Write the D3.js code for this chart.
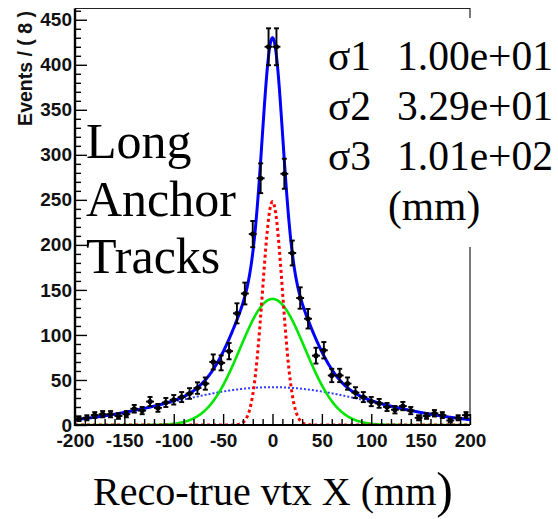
<!DOCTYPE html>
<html>
<head>
<meta charset="utf-8">
<script src="https://cdn.jsdelivr.net/npm/d3@7"></script>
<style>
  html, body { margin: 0; padding: 0; background: #fff; }
  svg { display: block; }
</style>
</head>
<body>
<svg id="chart" width="558" height="519"></svg>
<script>
// Histogram bins (width 8 mm) of reco - true vertex X
const binCenters = [-196, -188, -180, -172, -164, -156, -148, -140, -132, -124,
                    -116, -108, -100, -92, -84, -76, -68, -60, -52, -44,
                    -36, -28, -20, -12, -4, 4, 12, 20, 28, 36,
                    44, 52, 60, 68, 76, 84, 92, 100, 108, 116,
                    124, 132, 140, 148, 156, 164, 172, 180, 188, 196];
const counts = [7, 8, 11, 12, 12, 10, 12, 18, 16, 26,
                19, 25, 28, 31, 35, 41, 46, 70, 69, 82,
                124, 146, 212, 274, 420, 420, 279, 191, 141, 118,
                77, 83, 55, 55, 46, 36, 31, 26, 24, 20,
                17, 21, 16, 8, 10, 13, 11, 5, 8, 11];
const binWidth = 8;

// Triple-Gaussian fit components (narrow, medium, wide)
const fitSigmas = [10.0, 32.9, 101];
const fitAmplitudes = [248, 140, 42];
const fitMeans = [0, 0, 0];

const xTicks = [-200, -150, -100, -50, 0, 50, 100, 150, 200];
const yTicks = [0, 50, 100, 150, 200, 250, 300, 350, 400, 450];

const svg = d3.select("#chart");
const padL = 75, padR = 470, padT = 8.5, padB = 425;

const x = d3.scaleLinear().domain([-200, 200]).range([padL, padR]);
const y = d3.scaleLinear().domain([0, 462.5]).range([padB, padT]);

const sansBold = "'Liberation Sans', Arial, Helvetica, sans-serif";
const serif = "'Liberation Serif', 'Times New Roman', serif";

svg.append("defs").append("clipPath").attr("id", "plotClip")
  .append("rect").attr("x", padL).attr("y", padT)
  .attr("width", padR - padL).attr("height", padB - padT);

// Frame (top and right edges)
svg.append("path")
  .attr("d", `M${padL},${padT}H${padR}V${padB}`)
  .attr("fill", "none").attr("stroke", "#222").attr("stroke-width", 1.2);

// Fit curves
const gauss = (v, i) => fitAmplitudes[i] * Math.exp(-0.5 * Math.pow((v - fitMeans[i]) / fitSigmas[i], 2));
const samples = d3.range(-200, 200.25, 0.5);
const line = d3.line().x(d => x(d[0])).y(d => y(d[1])).curve(d3.curveLinear);
const plot = svg.append("g").attr("clip-path", "url(#plotClip)");

const compStyles = [
  { color: "#ff0000", width: 3, dash: "3,3" },
  { color: "#00e600", width: 2.6, dash: null },
  { color: "#2f3cff", width: 2, dash: "2,2" }
];
[2, 1, 0].forEach(i => {
  const s = compStyles[i];
  plot.append("path")
    .datum(samples.map(v => [v, gauss(v, i)]))
    .attr("d", line)
    .attr("fill", "none")
    .attr("stroke", s.color)
    .attr("stroke-width", s.width)
    .attr("stroke-dasharray", s.dash);
});

// Data points with Poisson error bars
const pts = svg.append("g").attr("stroke", "#000").attr("stroke-width", 1.9);
binCenters.forEach((c, i) => {
  const n = counts[i];
  const err = Math.sqrt(n);
  const cx = x(c), cy = y(n);
  const yLo = y(Math.max(0, n - err)), yHi = y(n + err);
  pts.append("line").attr("x1", x(c - binWidth / 2)).attr("x2", x(c + binWidth / 2))
    .attr("y1", cy).attr("y2", cy);
  pts.append("line").attr("x1", cx).attr("x2", cx).attr("y1", yLo).attr("y2", yHi);
  pts.append("line").attr("x1", cx - 2.5).attr("x2", cx + 2.5).attr("y1", yLo).attr("y2", yLo);
  pts.append("line").attr("x1", cx - 2.5).attr("x2", cx + 2.5).attr("y1", yHi).attr("y2", yHi);
  pts.append("circle").attr("cx", cx).attr("cy", cy).attr("r", 2.6)
    .attr("fill", "#000").attr("stroke", "none");
});

// Total fit
plot.append("path")
  .datum(samples.map(v => [v, gauss(v, 0) + gauss(v, 1) + gauss(v, 2)]))
  .attr("d", line)
  .attr("fill", "none")
  .attr("stroke", "#0000ff")
  .attr("stroke-width", 3);

// Axes with inward ticks
const yMinor = d3.range(0, 461, 10).filter(v => v % 50 !== 0);
const xMinor = d3.range(-200, 201, 10).filter(v => v % 50 !== 0);

svg.append("g").attr("transform", `translate(${padL},0)`)
  .call(d3.axisLeft(y).tickValues(yTicks).tickSize(-12).tickPadding(3).tickFormat(d => String(d)));
svg.append("g").attr("transform", `translate(${padL},0)`)
  .call(d3.axisLeft(y).tickValues(yMinor).tickSize(-6).tickFormat(""));
svg.append("g").attr("transform", `translate(0,${padB})`)
  .call(d3.axisBottom(x).tickValues(xTicks).tickSize(-11).tickPadding(9).tickFormat(d => String(d)));
svg.append("g").attr("transform", `translate(0,${padB})`)
  .call(d3.axisBottom(x).tickValues(xMinor).tickSize(-6).tickFormat(""));

svg.selectAll(".domain").remove();
svg.selectAll(".tick line").attr("stroke", "#000").attr("stroke-width", 1.4);
svg.selectAll(".tick text")
  .attr("font-family", sansBold).attr("font-weight", "bold")
  .attr("font-size", 19).attr("fill", "#111");

// Axis lines
svg.append("line").attr("x1", padL).attr("x2", padL).attr("y1", padT).attr("y2", padB + 1)
  .attr("stroke", "#000").attr("stroke-width", 2.4);
svg.append("line").attr("x1", padL - 1).attr("x2", padR).attr("y1", padB).attr("y2", padB)
  .attr("stroke", "#000").attr("stroke-width", 2.2);

// Y axis title
svg.append("text")
  .attr("transform", "translate(31.5,11) rotate(-90)")
  .attr("text-anchor", "end")
  .attr("font-family", sansBold).attr("font-weight", "bold")
  .attr("font-size", 19.5).attr("fill", "#111")
  .text("Events / ( 8 )");

// Sample label
const sample = svg.append("text")
  .attr("font-family", serif).attr("font-size", 50).attr("fill", "#000");
[["Long", 158], ["Anchor", 215.5], ["Tracks", 273]].forEach(([t, by]) => {
  sample.append("tspan").attr("x", 86).attr("y", by).text(t);
});

// Fitted widths box
svg.append("rect").attr("x", 303).attr("y", 18).attr("width", 255).attr("height", 229)
  .attr("fill", "#fff");
const widthLabels = ["σ1", "σ2", "σ3"];
const widthValues = fitSigmas.map(s => s.toExponential(2).replace(/e\+(\d)$/, "e+0$1"));
widthLabels.forEach((lab, i) => {
  const by = 70 + i * 50;
  svg.append("text").attr("x", 328).attr("y", by)
    .attr("font-family", serif).attr("font-size", 41.5).text(lab);
  svg.append("text").attr("x", 397).attr("y", by)
    .attr("font-family", serif).attr("font-size", 41.5).text(widthValues[i]);
});
svg.append("text").attr("x", 388).attr("y", 220)
  .attr("font-family", serif).attr("font-size", 41.5).text("(mm)");

// X axis title
const xt = svg.append("text").attr("x", 93).attr("y", 505)
  .attr("font-family", serif).attr("font-size", 40).attr("fill", "#000");
xt.append("tspan").text("Reco-true vtx X (mm");
xt.append("tspan").attr("font-size", 50).attr("dy", 2).text(")");
</script>
</body>
</html>
